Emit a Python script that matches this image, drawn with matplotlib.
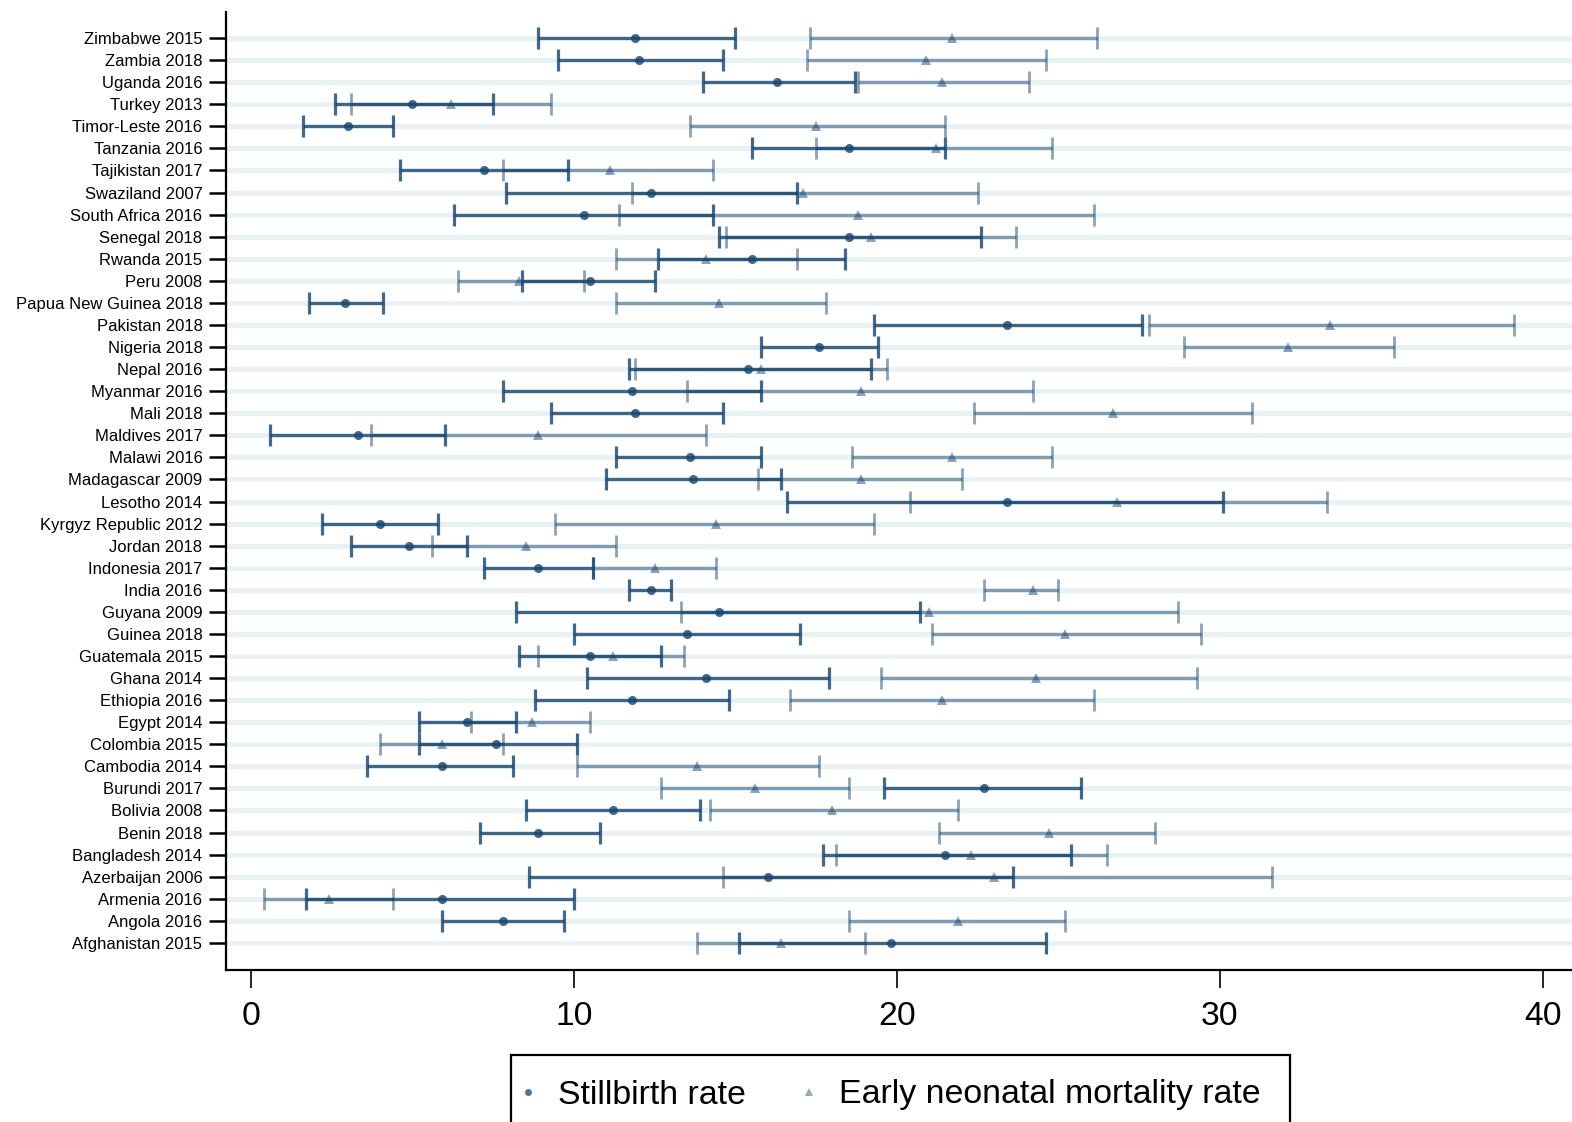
import matplotlib
matplotlib.use("Agg")
import matplotlib.pyplot as plt
from matplotlib.lines import Line2D
from matplotlib.patches import Rectangle
import numpy as np

plt.rcParams['font.family'] = ['Liberation Sans', 'Arial', 'DejaVu Sans']

countries = ["Zimbabwe 2015", "Zambia 2018", "Uganda 2016", "Turkey 2013", "Timor-Leste 2016",
             "Tanzania 2016", "Tajikistan 2017", "Swaziland 2007", "South Africa 2016", "Senegal 2018",
             "Rwanda 2015", "Peru 2008", "Papua New Guinea 2018", "Pakistan 2018", "Nigeria 2018",
             "Nepal 2016", "Myanmar 2016", "Mali 2018", "Maldives 2017", "Malawi 2016",
             "Madagascar 2009", "Lesotho 2014", "Kyrgyz Republic 2012", "Jordan 2018", "Indonesia 2017",
             "India 2016", "Guyana 2009", "Guinea 2018", "Guatemala 2015", "Ghana 2014",
             "Ethiopia 2016", "Egypt 2014", "Colombia 2015", "Cambodia 2014", "Burundi 2017",
             "Bolivia 2008", "Benin 2018", "Bangladesh 2014", "Azerbaijan 2006", "Armenia 2016",
             "Angola 2016", "Afghanistan 2015"]

sb_est = [11.9, 12.0, 16.3, 5.0, 3.0, 18.5, 7.2, 12.4, 10.3, 18.5,
          15.5, 10.5, 2.9, 23.4, 17.6, 15.4, 11.8, 11.9, 3.3, 13.6,
          13.7, 23.4, 4.0, 4.9, 8.9, 12.4, 14.5, 13.5, 10.5, 14.1,
          11.8, 6.7, 7.6, 5.9, 22.7, 11.2, 8.9, 21.5, 16.0, 5.9,
          7.8, 19.8]
sb_lo = [8.9, 9.5, 14.0, 2.6, 1.6, 15.5, 4.6, 7.9, 6.3, 14.5,
         12.6, 8.4, 1.8, 19.3, 15.8, 11.7, 7.8, 9.3, 0.6, 11.3,
         11.0, 16.6, 2.2, 3.1, 7.2, 11.7, 8.2, 10.0, 8.3, 10.4,
         8.8, 5.2, 5.2, 3.6, 19.6, 8.5, 7.1, 17.7, 8.6, 1.7,
         5.9, 15.1]
sb_hi = [15.0, 14.6, 18.7, 7.5, 4.4, 21.5, 9.8, 16.9, 14.3, 22.6,
         18.4, 12.5, 4.1, 27.6, 19.4, 19.2, 15.8, 14.6, 6.0, 15.8,
         16.4, 30.1, 5.8, 6.7, 10.6, 13.0, 20.7, 17.0, 12.7, 17.9,
         14.8, 8.2, 10.1, 8.1, 25.7, 13.9, 10.8, 25.4, 23.6, 10.0,
         9.7, 24.6]

enm_est = [21.7, 20.9, 21.4, 6.2, 17.5, 21.2, 11.1, 17.1, 18.8, 19.2,
           14.1, 8.3, 14.5, 33.4, 32.1, 15.8, 18.9, 26.7, 8.9, 21.7,
           18.9, 26.8, 14.4, 8.5, 12.5, 24.2, 21.0, 25.2, 11.2, 24.3,
           21.4, 8.7, 5.9, 13.8, 15.6, 18.0, 24.7, 22.3, 23.0, 2.4,
           21.9, 16.4]
enm_lo = [17.3, 17.2, 18.8, 3.1, 13.6, 17.5, 7.8, 11.8, 11.4, 14.7,
          11.3, 6.4, 11.3, 27.8, 28.9, 11.9, 13.5, 22.4, 3.7, 18.6,
          15.7, 20.4, 9.4, 5.6, 10.6, 22.7, 13.3, 21.1, 8.9, 19.5,
          16.7, 6.8, 4.0, 10.1, 12.7, 14.2, 21.3, 18.1, 14.6, 0.4,
          18.5, 13.8]
enm_hi = [26.2, 24.6, 24.1, 9.3, 21.5, 24.8, 14.3, 22.5, 26.1, 23.7,
          16.9, 10.3, 17.8, 39.1, 35.4, 19.7, 24.2, 31.0, 14.1, 24.8,
          22.0, 33.3, 19.3, 11.3, 14.4, 25.0, 28.7, 29.4, 13.4, 29.3,
          26.1, 10.5, 7.8, 17.6, 18.5, 21.9, 28.0, 26.5, 31.6, 4.4,
          25.2, 19.0]

x_ticks = [0, 10, 20, 30, 40]
legend_labels = ["Stillbirth rate", "Early neonatal mortality rate"]

navy = '#1a476f'
W, H = 1572, 1122

fig = plt.figure(figsize=(15.72, 11.22), dpi=100)
ax = fig.add_axes([226/W, 1-970/H, 1-226/W, (970-12)/H])

n = len(countries)
y = np.arange(n)[::-1]

sb_est_a = np.array(sb_est); sb_lo_a = np.array(sb_lo); sb_hi_a = np.array(sb_hi)
enm_est_a = np.array(enm_est); enm_lo_a = np.array(enm_lo); enm_hi_a = np.array(enm_hi)

# row grid lines
for yy in y:
    ax.axhline(yy, color='#eaf1f3', lw=3.6, zorder=0)

# Stillbirth
ax.errorbar(sb_est_a, y, xerr=[sb_est_a - sb_lo_a, sb_hi_a - sb_est_a], fmt='none',
            ecolor=navy, alpha=0.82, elinewidth=2.3, capsize=7.8, capthick=2.3, zorder=2)
ax.plot(sb_est_a, y, 'o', color=navy, alpha=0.82, markersize=6.5, markeredgewidth=0, zorder=3)

# Early neonatal
ax.errorbar(enm_est_a, y, xerr=[enm_est_a - enm_lo_a, enm_hi_a - enm_est_a], fmt='none',
            ecolor=navy, alpha=0.5, elinewidth=2.3, capsize=7.8, capthick=2.0, zorder=4)
ax.plot(enm_est_a, y, '^', color=navy, alpha=0.5, markersize=7, markeredgewidth=0, zorder=5)

ax.set_xlim(-0.774, 40.9)
ax.set_ylim(-1.23, n - 1 + 26/22)
ax.set_yticks(y)
ax.set_yticklabels(countries, fontsize=12.0)
ax.set_xticks(x_ticks)
ax.set_xticklabels([str(t) for t in x_ticks], fontsize=24.2)

for s in ['top', 'right']:
    ax.spines[s].set_visible(False)
ax.spines['left'].set_linewidth(1.6)
ax.spines['bottom'].set_linewidth(1.6)
ax.tick_params(axis='y', length=12, width=1.8, pad=5)
ax.tick_params(axis='x', length=13, width=1.2, pad=9)

# legend frame (box runs off the bottom of the figure)
top = 1-1055/H
fig.patches.append(Rectangle((511/W, -0.1), (1290-511)/W, top + 0.1,
                             transform=fig.transFigure, fill=False, ec='black', lw=1.6))

handles = [Line2D([], [], marker='o', ls='none', color=navy, alpha=0.75, markersize=5, markeredgewidth=0),
           Line2D([], [], marker='^', ls='none', color=navy, alpha=0.45, markersize=5.5, markeredgewidth=0)]
leg = fig.legend(handles, legend_labels, loc='center left', bbox_to_anchor=(523/W, 1-1095/H),
                 ncol=2, fontsize=24.4, frameon=False, borderpad=0,
                 handlelength=0.3, handletextpad=0.72, columnspacing=1.74, borderaxespad=0)

fig.savefig('out.png', dpi=100)
